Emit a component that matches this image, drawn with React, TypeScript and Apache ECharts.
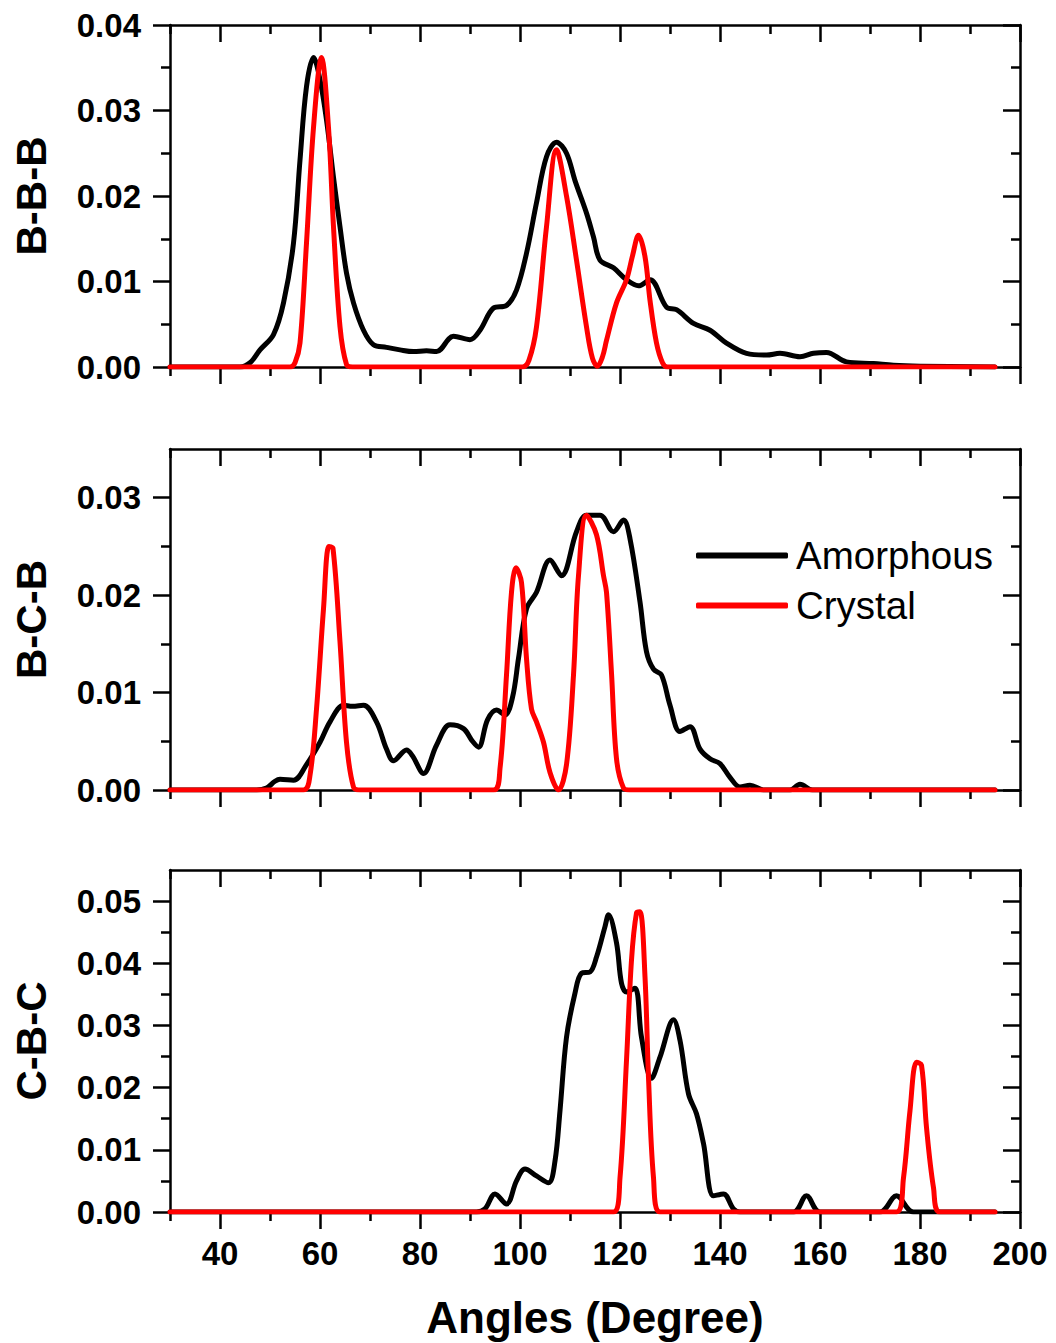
import React, { useEffect, useRef } from "react";
import * as echarts from "echarts";

// ---------- data ----------
const xMajorTicks = [40, 60, 80, 100, 120, 140, 160, 180, 200];
const xMinorTicks = [30, 50, 70, 90, 110, 130, 150, 170, 190];

const panelNames = ["B-B-B", "B-C-B", "C-B-C"];
const panelMax = [0.04, 0.035, 0.055];
const yMajorTicks = [
  [0, 0.01, 0.02, 0.03, 0.04],
  [0, 0.01, 0.02, 0.03],
  [0, 0.01, 0.02, 0.03, 0.04, 0.05],
];
const yMinorTicks = [
  [0.005, 0.015, 0.025, 0.035],
  [0.005, 0.015, 0.025],
  [0.005, 0.015, 0.025, 0.035, 0.045],
];

const bbbAmorphous = [
  [30, 0], [44, 0], [46, 0.0005], [48, 0.002], [50.7, 0.0038], [52.7, 0.0075], [54.7, 0.0145],
  [56, 0.0242], [57.3, 0.0328], [58.7, 0.0362], [60, 0.0336], [61.3, 0.0289], [62.7, 0.0222],
  [64, 0.0164], [65.3, 0.011], [66.7, 0.0075], [68.7, 0.0043], [70.7, 0.0026], [73.3, 0.0023],
  [76, 0.002], [78.7, 0.0018], [81.3, 0.0019], [83.3, 0.0018], [86.7, 0.0036], [90, 0.0032],
  [92, 0.0043], [94.7, 0.0069], [97.3, 0.0072], [99.3, 0.009], [101.3, 0.0133], [103.3, 0.0192],
  [105.3, 0.0246], [107.3, 0.0263], [109.3, 0.025], [111, 0.0218], [113.3, 0.018], [114.7, 0.0152],
  [116, 0.0125], [118.7, 0.0116], [121.3, 0.0102], [123.7, 0.0095], [126, 0.0102], [129.3, 0.007],
  [131.3, 0.0067], [134.7, 0.0051], [138, 0.0043], [141.3, 0.0028], [145.3, 0.0016], [149.3, 0.0014],
  [152, 0.0016], [156, 0.0012], [158.7, 0.0016], [161.3, 0.0017], [165.3, 0.0006], [170.7, 0.0004],
  [174.7, 0.0002], [180, 0.0001], [195, 0],
];
const bbbCrystal = [
  [30, 0], [54, 0], [55, 0.0005], [56, 0.0028], [57.3, 0.0145], [58.7, 0.028], [60.3, 0.0362],
  [61.7, 0.028], [62.7, 0.0164], [64, 0.0047], [65.3, 0.0003], [66.5, 0], [100.5, 0], [101.8, 0.0008],
  [103.3, 0.0047], [105.3, 0.0164], [107.3, 0.0254], [109.3, 0.02], [111.3, 0.0125], [113.3, 0.0047],
  [114.5, 0.001], [115.5, 0.0001], [116.5, 0.0012], [117.3, 0.0031], [119.3, 0.0075], [121.3, 0.0102],
  [122.5, 0.013], [123.7, 0.0154], [125, 0.0129], [126, 0.0078], [127.3, 0.0028], [128.5, 0.0005],
  [129.5, 0], [195, 0],
];

const bcbAmorphous = [
  [30, 0], [47.3, 0], [49.3, 0.0002], [51, 0.0009], [52, 0.0011], [54.7, 0.001], [57.3, 0.0026],
  [60, 0.0049], [62, 0.007], [64.7, 0.0087], [66.5, 0.0086], [68.7, 0.0087], [71.3, 0.007],
  [73.3, 0.0042], [74.7, 0.003], [77.3, 0.0041], [78.5, 0.0035], [80.7, 0.0017], [83.3, 0.0046],
  [86, 0.0067], [88.7, 0.0063], [90.5, 0.005], [91.7, 0.0044], [93.5, 0.0072], [95.3, 0.0082],
  [97, 0.0077], [98.5, 0.0095], [99.7, 0.0135], [101.3, 0.0186], [103.3, 0.0203], [106, 0.0236],
  [108.3, 0.022], [111.3, 0.0265], [113.3, 0.0282], [116, 0.0282], [118.7, 0.0265], [120.7, 0.0277],
  [122, 0.0258], [124, 0.0193], [125.3, 0.0142], [126.7, 0.0124], [128.3, 0.0118], [130, 0.0087],
  [132, 0.006], [134, 0.0065], [136, 0.0042], [138, 0.0032], [140, 0.0027], [142, 0.0013],
  [144, 0.0003], [146, 0.0005], [148.7, 0], [154, 0], [156, 0.0006], [158.5, 0], [195, 0],
];
const bcbCrystal = [
  [30, 0], [56.7, 0], [58, 0.0015], [59.3, 0.0083], [60.7, 0.0186], [61.8, 0.025], [62.6, 0.0248],
  [64, 0.0152], [65.3, 0.0049], [66.7, 0.0003], [68, 0], [94.7, 0], [96, 0.0022], [97.3, 0.0118],
  [98.3, 0.0203], [99.2, 0.0228], [100.3, 0.0213], [101.3, 0.0135], [102.3, 0.0083], [103.3, 0.007],
  [104.7, 0.0049], [106, 0.0018], [107.7, 0], [109.3, 0.0026], [110.7, 0.0118], [111.7, 0.022],
  [113.3, 0.0282], [115.3, 0.0262], [116.7, 0.022], [117.3, 0.0203], [118.3, 0.012], [119.3, 0.0032],
  [120.7, 0.0002], [122, 0], [195, 0],
];

const cbcAmorphous = [
  [30, 0], [91.3, 0], [93, 0.0005], [95, 0.0029], [97.3, 0.0013], [99.3, 0.005], [101, 0.0069],
  [103.3, 0.0058], [105.7, 0.0047], [107, 0.0082], [108, 0.0163], [109.3, 0.0281], [111, 0.0352],
  [112.3, 0.0384], [114, 0.0386], [115.3, 0.041], [117, 0.0459], [117.7, 0.0478], [119.3, 0.0433],
  [120.3, 0.0368], [121.3, 0.0354], [123, 0.036], [124.3, 0.0281], [126.3, 0.0215], [128, 0.0249],
  [130.7, 0.0309], [132, 0.0276], [133.7, 0.019], [135.3, 0.0158], [136.7, 0.011], [138.7, 0.0026],
  [140.7, 0.0029], [142.7, 0.0005], [144, 0], [154.7, 0], [157.3, 0.0026], [160, 0], [172, 0],
  [175.3, 0.0026], [178.7, 0], [195, 0],
];
const cbcCrystal = [
  [30, 0], [118.7, 0], [120, 0.0055], [121.3, 0.0244], [122.3, 0.0405], [123.3, 0.0481], [124, 0.0483],
  [125, 0.0378], [125.7, 0.0216], [126.7, 0.0055], [128, 0], [175.3, 0], [176.7, 0.0055], [178, 0.0163],
  [179.3, 0.0241], [180.3, 0.0236], [181.3, 0.0136], [182.7, 0.0039], [184, 0], [195, 0],
];

const amorphousByPanel = [bbbAmorphous, bcbAmorphous, cbcAmorphous];
const crystalByPanel = [bbbCrystal, bcbCrystal, cbcCrystal];
const seriesNames = ["Amorphous", "Crystal"];

// ---------- layout / style ----------
const FONT = "'Liberation Sans', Arial, Helvetica, sans-serif";
const W = 1056;
const H = 1343;
const GRID_LEFT = 170;
const GRID_WIDTH = 850;
const gridTops = [25, 449, 870];
const gridHeights = [342, 341, 342];
const AXIS_W = 2.5;

function buildOption() {
  const grid: any[] = [];
  const xAxis: any[] = [];
  const yAxis: any[] = [];
  const series: any[] = [];

  for (let g = 0; g < 3; g++) {
    grid.push({ left: GRID_LEFT, width: GRID_WIDTH, top: gridTops[g], height: gridHeights[g] });

    const xBase = {
      type: "value",
      gridIndex: g,
      min: 30,
      max: 200,
      interval: 10,
      splitLine: { show: false },
    };
    const mkX = (position: string, major: boolean, inside: boolean, labels: boolean) => ({
      ...xBase,
      position,
      axisLine: { show: major, onZero: false, lineStyle: { color: "#000", width: AXIS_W } },
      axisTick: {
        show: true,
        inside,
        length: major ? 17 : 9,
        customValues: major ? xMajorTicks : xMinorTicks,
        lineStyle: { color: "#000", width: AXIS_W },
      },
      axisLabel: labels
        ? {
            show: true,
            customValues: xMajorTicks,
            margin: 25,
            color: "#000",
            fontFamily: FONT,
            fontWeight: "bold",
            fontSize: 33,
          }
        : { show: false },
      ...(labels
        ? {
            name: "Angles (Degree)",
            nameLocation: "middle",
            nameGap: 83,
            nameTextStyle: { color: "#000", fontFamily: FONT, fontWeight: "bold", fontSize: 44 },
          }
        : {}),
    });
    xAxis.push(mkX("bottom", true, false, g === 2));
    xAxis.push(mkX("bottom", false, false, false));
    xAxis.push(mkX("top", true, true, false));
    xAxis.push(mkX("top", false, true, false));

    const yBase = {
      type: "value",
      gridIndex: g,
      min: 0,
      max: panelMax[g],
      interval: 0.01,
      splitLine: { show: false },
    };
    const mkY = (position: string, major: boolean, inside: boolean, labels: boolean) => ({
      ...yBase,
      position,
      axisLine: { show: major, onZero: false, lineStyle: { color: "#000", width: AXIS_W } },
      axisTick: {
        show: true,
        inside,
        length: major ? 17 : 9,
        customValues: major ? yMajorTicks[g] : yMinorTicks[g],
        lineStyle: { color: "#000", width: AXIS_W },
      },
      axisLabel: labels
        ? {
            show: true,
            customValues: yMajorTicks[g],
            margin: 29,
            color: "#000",
            fontFamily: FONT,
            fontWeight: "bold",
            fontSize: 33,
            formatter: (v: number) => v.toFixed(2),
          }
        : { show: false },
      ...(labels
        ? {
            name: panelNames[g],
            nameLocation: "middle",
            nameGap: 118,
            nameTextStyle: { color: "#000", fontFamily: FONT, fontWeight: "bold", fontSize: 42 },
          }
        : {}),
    });
    yAxis.push(mkY("left", true, false, true));
    yAxis.push(mkY("left", false, false, false));
    yAxis.push(mkY("right", true, true, false));
    yAxis.push(mkY("right", false, true, false));

    const pairs = [
      { name: seriesNames[0], data: amorphousByPanel[g], color: "#000000" },
      { name: seriesNames[1], data: crystalByPanel[g], color: "#ff0000" },
    ];
    pairs.forEach((p, i) => {
      series.push({
        type: "line",
        name: p.name,
        xAxisIndex: g * 4,
        yAxisIndex: g * 4,
        data: p.data,
        smooth: 0.35,
        symbol: "none",
        z: 3 + i,
        lineStyle: { color: p.color, width: 5, cap: "round", join: "round" },
        itemStyle: { color: p.color },
        clip: true,
      });
    });
  }

  return {
    animation: false,
    backgroundColor: "#ffffff",
    grid,
    xAxis,
    yAxis,
    series,
    legend: {
      data: seriesNames,
      orient: "vertical",
      left: 691,
      top: 531,
      icon: "roundRect",
      itemWidth: 92,
      itemHeight: 6,
      itemGap: 11,
      textStyle: { color: "#000", fontFamily: FONT, fontSize: 38.5, padding: [0, 0, 0, 3] },
      selectedMode: false,
    },
  };
}

export default function App() {
  const ref = useRef<HTMLDivElement>(null);
  useEffect(() => {
    if (!ref.current) return;
    const chart = echarts.init(ref.current, null, { renderer: "svg" });
    chart.setOption(buildOption() as any);
    return () => chart.dispose();
  }, []);
  return (
    <div
      ref={ref}
      style={{ position: "absolute", left: 0, top: 0, width: W, height: H, background: "#fff" }}
    />
  );
}
